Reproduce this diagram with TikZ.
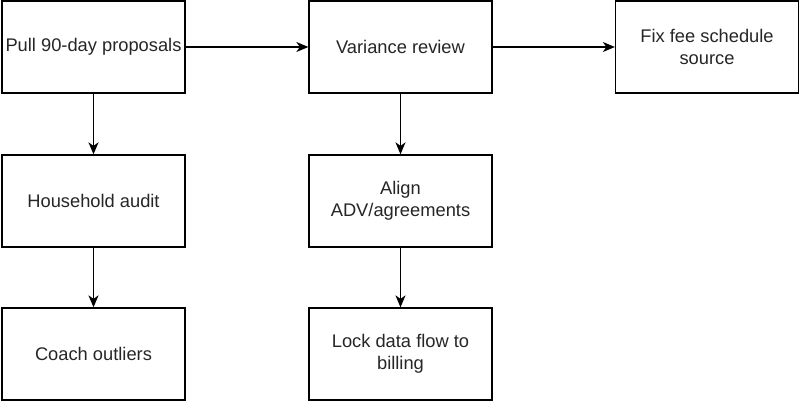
\documentclass[tikz,border=0pt]{standalone}
\usepackage{fontspec}
\setmainfont{Liberation Sans}
\usetikzlibrary{arrows.meta}
\begin{document}
\begin{tikzpicture}[x=1pt,y=-1pt,
  box/.style={draw=black,line width=1.3pt,fill=white,minimum width=183pt,minimum height=92pt,inner sep=0pt,align=center,font=\fontsize{18.3}{22.5}\selectfont,text=black!85},
  conn/.style={draw=black,line width=1.3pt,-{Stealth[length=12pt,width=10pt,inset=3.5pt]}}]
\useasboundingbox (0,0) rectangle (800,401);
\node[box] (a) at (93.5,47) {Pull 90-day proposals};
\node[box] (b) at (400.5,47) {Variance review};
\node[box] (c) at (707,47) {Fix fee schedule\\source};
\node[box] (d) at (93.5,201) {Household audit};
\node[box] (e) at (400.5,201) {Align\\ADV/agreements};
\node[box] (f) at (93.5,354) {Coach outliers};
\node[box] (g) at (400.5,354) {Lock data flow to\\billing};
\draw[conn] (a) -- (b);
\draw[conn] (b) -- (c);
\draw[conn] (a) -- (d);
\draw[conn] (d) -- (f);
\draw[conn] (b) -- (e);
\draw[conn] (e) -- (g);
\end{tikzpicture}
\end{document}
